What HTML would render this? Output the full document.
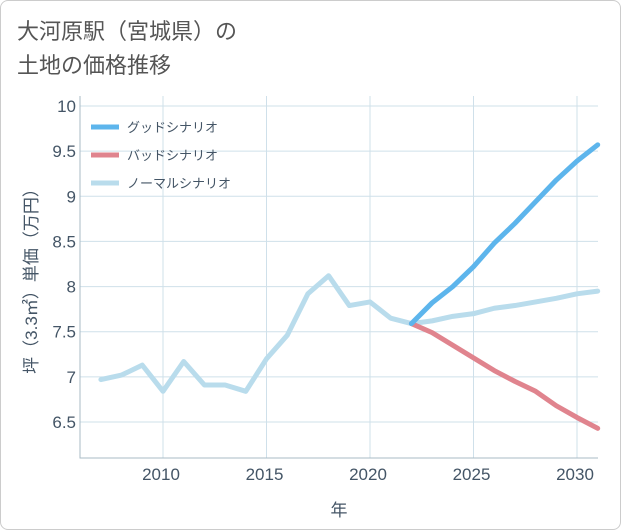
<!DOCTYPE html>
<html><head><meta charset="utf-8"><style>
body{margin:0;background:#fff;}
#wrap{position:relative;width:619px;height:528px;border:1px solid #ccc;border-radius:8px;overflow:hidden;background:#fff;font-family:"Liberation Sans","Noto Sans CJK JP",sans-serif;}
#title{position:absolute;left:16px;top:14px;font-size:22px;line-height:34px;color:#555;}
svg{position:absolute;left:0;top:0;}
</style></head><body>
<div id="wrap">
<div id="title">大河原駅（宮城県）の<br>土地の価格推移</div>
<svg id="chart" width="621" height="530"></svg>
</div>
<script>
const years=[2007,2008,2009,2010,2011,2012,2013,2014,2015,2016,2017,2018,2019,2020,2021,2022,2023,2024,2025,2026,2027,2028,2029,2030,2031];
const normalVals=[6.97,7.02,7.13,6.84,7.17,6.91,6.91,6.84,7.2,7.46,7.92,8.12,7.79,7.83,7.65,7.59,7.62,7.67,7.7,7.76,7.79,7.83,7.87,7.92,7.95];
const futureYears=[2022,2023,2024,2025,2026,2027,2028,2029,2030,2031];
const goodVals=[7.59,7.82,8.0,8.22,8.48,8.7,8.94,9.18,9.39,9.57];
const badVals=[7.59,7.49,7.35,7.21,7.07,6.95,6.84,6.68,6.55,6.43];
const yTicks=[6.5,7,7.5,8,8.5,9,9.5,10];
const xTicks=[2010,2015,2020,2025,2030];
const legendLabels=["グッドシナリオ","バッドシナリオ","ノーマルシナリオ"];
const NS="http://www.w3.org/2000/svg";
const svg=document.getElementById('chart');
const L=79,R=597,T=95,B=457;
const x=v=>162+(v-2010)*(576-162)/20;
const y=v=>105+(10-v)*(421-105)/3.5;
function mk(t,a){const e=document.createElementNS(NS,t);for(const k in a)e.setAttribute(k,a[k]);svg.appendChild(e);return e;}
for(const t of yTicks){const l=mk('line',{x1:L,x2:R,y1:y(t),y2:y(t),stroke:'#cfe0ea','stroke-width':1});


const tx=mk('text',{x:L-4,y:y(t)+6,'text-anchor':'end','font-size':17,fill:'#445566'});tx.textContent=String(t);

}
for(const t of xTicks){const l=mk('line',{x1:x(t),x2:x(t),y1:T,y2:B,stroke:'#cfe0ea','stroke-width':1});


const tx=mk('text',{x:x(t)-2,y:B+22,'text-anchor':'middle','font-size':17,fill:'#445566'});tx.textContent=String(t);

}
const ax=mk('path',{d:`M${L},${T}V${B}H${R}`,fill:'none',stroke:'#aabbc6'});


const xt=mk('text',{x:(L+R)/2,y:515,'text-anchor':'middle','font-size':17,fill:'#445566'});xt.textContent='年';


const yt=mk('text',{x:0,y:0,'text-anchor':'middle','font-size':17,fill:'#445566',transform:`translate(36,${(T+B)/2}) rotate(-90)`});yt.textContent='坪（3.3㎡）単価（万円）';


function line(xs,vs,c,name){const d=xs.map((v,i)=>(i?'L':'M')+x(v)+','+y(vs[i])).join('');
const p=mk('path',{d,fill:'none',stroke:c,'stroke-width':5,'stroke-linejoin':'round','stroke-linecap':'round'});

}
line(years,normalVals,'#b9dcec','normal-scenario-line');
line(futureYears,badVals,'#e0848e','bad-scenario-line');
line(futureYears,goodVals,'#5db5ec','good-scenario-line');
const lc=['#5db5ec','#e0848e','#b9dcec'];
legendLabels.forEach((s,i)=>{const yy=126+i*28;
const l=mk('line',{x1:90,x2:118,y1:yy,y2:yy,stroke:lc[i],'stroke-width':5});


const t=mk('text',{x:126,y:yy+5,'font-size':13,fill:'#445566'});t.textContent=s;

});
</script>
</body></html>
